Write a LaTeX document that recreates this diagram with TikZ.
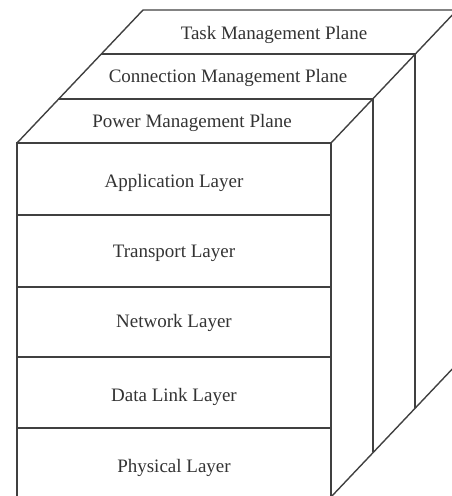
\documentclass[tikz,border=0pt]{standalone}
\usepackage{fontspec}
\setmainfont{Liberation Serif}
\begin{document}
\begin{tikzpicture}[x=1pt,y=-1pt,
  edge/.style={draw=black!75,line width=1.4pt,line join=miter},
  lbl/.style={text=black!80,font=\fontsize{19}{22}\selectfont,inner sep=0pt}]
\useasboundingbox (0,0) rectangle (451,496);
% corner coordinates
\coordinate (fl) at (17,143);
\coordinate (fr) at (331,143);
\coordinate (fbl) at (17,497);
\coordinate (fbr) at (331,497);
\coordinate (p1l) at (59,99);
\coordinate (p1r) at (373,99);
\coordinate (p2l) at (101,54);
\coordinate (p2r) at (415,54);
\coordinate (p3l) at (143,10);
\coordinate (p3r) at (457,10);
\coordinate (d1) at (373,452);
\coordinate (d2) at (415,408);
\coordinate (d3) at (457,364);
\coordinate (l1l) at (17,215);\coordinate (l1r) at (331,215);
\coordinate (l2l) at (17,287);\coordinate (l2r) at (331,287);
\coordinate (l3l) at (17,357);\coordinate (l3r) at (331,357);
\coordinate (l4l) at (17,428);\coordinate (l4r) at (331,428);
% front box
\draw[edge] (fbl) -- (fl) -- (fr) -- (fbr);
\draw[edge] (l1l) -- (l1r);
\draw[edge] (l2l) -- (l2r);
\draw[edge] (l3l) -- (l3r);
\draw[edge] (l4l) -- (l4r);
% planes
\draw[edge] (fl) -- (p3l) -- (p3r);
\draw[edge] (p1l) -- (p1r);
\draw[edge] (p2l) -- (p2r);
\draw[edge] (fr) -- (p3r);
\draw[edge] (fbr) -- (d3);
\draw[edge] (p1r) -- (d1);
\draw[edge] (p2r) -- (d2);
% labels
\node[lbl] (task) at (274,35) {Task Management Plane};
\node[lbl] (conn) at (228,78) {Connection Management Plane};
\node[lbl] (power) at (192,123) {Power Management Plane};
\node[lbl] (app) at (174,183) {Application Layer};
\node[lbl] (trans) at (174,253) {Transport Layer};
\node[lbl] (net) at (174,323) {Network Layer};
\node[lbl] (dl) at (174,397) {Data Link Layer};
\node[lbl] (phy) at (174,468) {Physical Layer};
\end{tikzpicture}
\end{document}
